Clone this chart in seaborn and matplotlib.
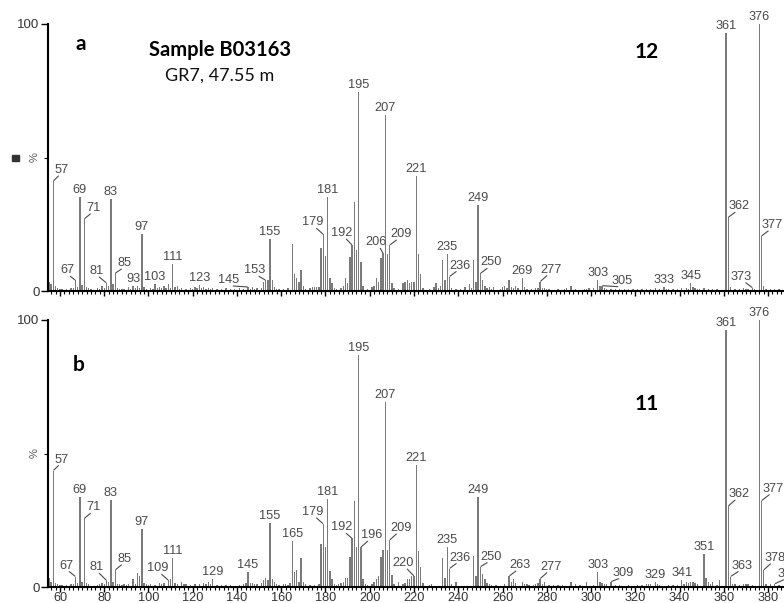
import matplotlib
matplotlib.use("Agg")
import matplotlib.pyplot as plt
from matplotlib.ticker import FixedLocator, MultipleLocator, NullFormatter
import pandas as pd
import seaborn as sns

# ---------------- spectrum a (peak 12) : (m/z, relative abundance %) ----------------
peaks_a = [
    (55, 3.5), (56, 2.5), (57, 41.2), (58, 2.0), (59, 1.0), (60, 0.8), (61, 0.8), (63, 0.6),
    (65, 1.0), (66, 1.2), (67, 4.0), (68, 1.5), (69, 35.2), (70, 2.2), (71, 27.0), (72, 1.5),
    (73, 1.2), (74, 0.8), (77, 1.0), (78, 0.8), (79, 2.0), (80, 1.0), (81, 3.0), (82, 2.0),
    (83, 34.5), (84, 2.5), (85, 6.7), (86, 1.0), (87, 0.8), (88, 0.6), (89, 0.8), (91, 1.5),
    (92, 0.8), (93, 2.0), (94, 1.0), (95, 2.0), (96, 1.2), (97, 21.3), (98, 1.5), (99, 0.8),
    (101, 1.0), (102, 0.8), (103, 2.5), (104, 1.0), (105, 1.5), (106, 1.0), (107, 2.0),
    (108, 1.2), (109, 2.5), (110, 1.2), (111, 10.0), (112, 1.5), (113, 2.0), (114, 0.8),
    (115, 1.0), (117, 0.8), (119, 1.2), (120, 0.8), (121, 1.5), (122, 1.0), (123, 2.2),
    (124, 1.0), (125, 1.5), (126, 0.8), (127, 1.0), (128, 0.6), (129, 1.0), (131, 0.8),
    (133, 0.8), (135, 1.0), (137, 0.6), (139, 0.8), (141, 1.0), (143, 0.8), (145, 1.5),
    (146, 0.6), (147, 1.5), (148, 0.8), (149, 1.0), (151, 1.2), (152, 3.5), (153, 4.0),
    (154, 4.0), (155, 19.5), (156, 4.0), (157, 1.5), (158, 0.6), (159, 0.6), (161, 0.8),
    (163, 1.0), (165, 17.6), (166, 6.5), (167, 5.0), (168, 3.5), (169, 8.0), (170, 2.0),
    (171, 0.8), (173, 1.0), (174, 1.5), (175, 1.5), (176, 1.5), (177, 1.5), (178, 16.0),
    (179, 21.2), (180, 13.0), (181, 35.3), (182, 5.0), (183, 3.0), (184, 1.2), (185, 0.8),
    (187, 1.0), (188, 2.0), (189, 5.0), (190, 3.0), (191, 12.8), (192, 17.2), (193, 33.4),
    (194, 15.4), (195, 74.5), (196, 11.0), (197, 2.0), (199, 0.8), (201, 1.5), (202, 2.0),
    (203, 5.0), (204, 3.5), (205, 12.5), (206, 14.1), (207, 65.8), (208, 14.0), (209, 17.2),
    (210, 3.0), (211, 1.0), (213, 0.8), (215, 3.0), (216, 3.5), (217, 4.0), (218, 3.0),
    (219, 3.5), (220, 3.5), (221, 43.0), (222, 13.9), (223, 6.2), (224, 1.0), (227, 0.8),
    (229, 1.5), (230, 3.0), (231, 1.2), (232, 2.0), (233, 11.6), (234, 4.0), (235, 13.9),
    (236, 5.4), (237, 1.2), (239, 0.8), (241, 0.6), (243, 1.5), (245, 2.5), (246, 1.2),
    (247, 11.6), (248, 3.5), (249, 32.2), (250, 6.6), (251, 4.0), (252, 2.0), (253, 1.2),
    (254, 1.5), (255, 0.8), (256, 1.5), (259, 0.8), (260, 1.5), (261, 2.0), (262, 1.0),
    (263, 4.0), (264, 1.5), (265, 1.0), (266, 2.0), (267, 1.0), (269, 4.9), (270, 1.5),
    (271, 0.8), (273, 0.6), (275, 1.0), (276, 1.2), (277, 3.5), (278, 1.2), (279, 1.0),
    (280, 0.8), (281, 0.6), (285, 0.8), (288, 0.8), (289, 1.2), (291, 2.0), (293, 0.6),
    (297, 0.8), (298, 0.8), (299, 1.0), (301, 1.0), (303, 4.1), (304, 2.0), (305, 2.0),
    (306, 1.0), (307, 0.8), (309, 0.6), (311, 0.8), (313, 0.8), (315, 0.6), (317, 0.8),
    (319, 0.8), (321, 0.6), (323, 0.8), (325, 0.6), (327, 0.8), (329, 1.0), (331, 0.8),
    (333, 1.5), (334, 0.8), (335, 0.8), (337, 0.6), (339, 0.8), (341, 1.0), (343, 1.2),
    (344, 0.8), (345, 3.1), (346, 1.5), (347, 1.0), (348, 0.8), (349, 0.8), (351, 1.0),
    (353, 0.6), (355, 0.8), (357, 0.6), (361, 96.5), (362, 27.6), (363, 1.5), (365, 0.6),
    (367, 0.6), (369, 1.0), (370, 0.8), (371, 0.8), (373, 1.2), (374, 0.8), (376, 100.0),
    (377, 20.6), (378, 2.0), (379, 0.8), (381, 0.8), (383, 0.6), (385, 0.6),
]
labels_a = [57, 67, 69, 71, 81, 83, 85, 93, 97, 103, 111, 123, 145, 153, 155, 179, 181,
            192, 195, 206, 207, 209, 221, 235, 236, 249, 250, 269, 277, 303, 305, 333,
            345, 361, 362, 373, 376, 377]

# ---------------- spectrum b (peak 11) ----------------
peaks_b = [
    (55, 3.2), (56, 2.0), (57, 43.6), (58, 1.5), (59, 1.0), (60, 0.8), (61, 0.8), (63, 0.6),
    (65, 1.0), (66, 1.2), (67, 3.9), (68, 1.5), (69, 33.8), (70, 2.0), (71, 25.7), (72, 1.5),
    (73, 1.0), (77, 0.8), (78, 1.0), (79, 1.5), (80, 1.0), (81, 2.5), (82, 2.0), (83, 32.6),
    (84, 2.0), (85, 6.4), (86, 1.0), (87, 1.0), (88, 0.8), (89, 1.2), (90, 0.8), (91, 1.2),
    (93, 3.0), (94, 1.0), (95, 5.1), (96, 4.0), (97, 21.6), (98, 1.5), (99, 1.0), (100, 0.8),
    (101, 1.0), (103, 0.8), (105, 1.5), (106, 1.2), (107, 1.5), (109, 2.5), (110, 3.0),
    (111, 10.7), (112, 1.5), (113, 1.0), (115, 2.0), (116, 1.0), (117, 1.2), (119, 0.8),
    (121, 1.0), (123, 1.0), (125, 1.5), (126, 1.0), (127, 2.0), (128, 1.0), (129, 2.9),
    (131, 0.6), (133, 0.6), (135, 0.8), (137, 0.6), (141, 0.8), (143, 1.0), (144, 1.5),
    (145, 5.7), (146, 1.5), (147, 1.5), (148, 1.0), (149, 1.0), (151, 1.5), (152, 2.5),
    (153, 3.5), (154, 2.5), (155, 23.8), (156, 3.0), (157, 2.0), (158, 1.0), (159, 0.6),
    (161, 1.0), (162, 1.0), (163, 0.8), (164, 1.5), (165, 17.4), (166, 5.5), (167, 6.5),
    (168, 2.0), (169, 11.0), (170, 2.0), (171, 1.0), (173, 0.6), (175, 0.6), (177, 1.0),
    (178, 16.1), (179, 23.6), (180, 15.1), (181, 33.0), (182, 6.0), (183, 3.0), (184, 1.2),
    (185, 0.8), (186, 1.0), (187, 1.5), (188, 2.0), (189, 3.5), (190, 3.5), (191, 11.4),
    (192, 18.2), (193, 32.3), (194, 14.9), (195, 86.9), (196, 14.9), (197, 3.0), (198, 1.0),
    (199, 0.6), (201, 1.0), (202, 2.0), (203, 3.0), (204, 4.0), (205, 11.4), (206, 13.8),
    (207, 69.2), (208, 14.0), (209, 17.6), (210, 4.5), (211, 1.0), (213, 2.0), (215, 1.0),
    (216, 1.5), (217, 3.0), (218, 3.0), (219, 4.0), (220, 4.1), (221, 45.7), (222, 13.6),
    (223, 7.6), (224, 1.5), (227, 0.8), (228, 1.0), (233, 10.7), (234, 3.5), (235, 15.1),
    (236, 6.9), (237, 1.2), (239, 2.0), (247, 11.6), (248, 4.0), (249, 33.6), (250, 7.6),
    (251, 5.0), (252, 3.0), (253, 1.5), (254, 1.0), (255, 0.8), (257, 0.6), (261, 1.0),
    (263, 4.1), (264, 2.0), (265, 3.0), (266, 1.5), (269, 2.0), (270, 1.0), (271, 1.0),
    (272, 0.8), (274, 0.8), (275, 1.2), (276, 1.5), (277, 3.1), (278, 1.0), (279, 2.0),
    (281, 0.6), (283, 0.8), (285, 0.8), (287, 0.6), (291, 2.0), (293, 1.0), (295, 0.8),
    (298, 2.0), (301, 0.6), (303, 5.7), (304, 2.0), (305, 1.5), (306, 1.0), (307, 1.0),
    (309, 2.0), (311, 0.6), (313, 0.6), (317, 0.8), (321, 0.8), (323, 0.6), (325, 1.0),
    (326, 1.2), (327, 1.0), (329, 2.0), (330, 1.0), (331, 0.8), (335, 0.6), (337, 0.8),
    (339, 0.6), (341, 2.5), (342, 1.0), (343, 2.0), (344, 1.5), (345, 2.0), (346, 2.0),
    (347, 1.5), (348, 1.0), (351, 12.4), (352, 3.5), (353, 2.0), (354, 1.0), (355, 2.0),
    (357, 0.8), (358, 2.5), (361, 96.3), (362, 30.3), (363, 3.9), (364, 1.0), (365, 1.2),
    (367, 0.8), (369, 1.0), (370, 1.0), (371, 1.0), (373, 0.8), (376, 100.0), (377, 32.3),
    (378, 6.4), (379, 1.0), (381, 1.0), (383, 1.2), (385, 0.8),
]
labels_b = [57, 67, 69, 71, 81, 83, 85, 97, 109, 111, 129, 145, 155, 165, 179, 181, 192,
            195, 196, 207, 209, 220, 221, 235, 236, 249, 250, 263, 277, 303, 309, 329,
            341, 351, 361, 362, 363, 376, 377, 378, 383]

x_ticks = list(range(60, 381, 20))

# label placement (offset of the label centre from the peak top, in pixels);
# peaks not listed get their label straight above the line
offsets_a = {
    57: (8, 11), 67: (-8, 10), 71: (9, 11), 81: (-10, 12), 85: (9, 10), 145: (-19, 7),
    153: (-11, 10), 179: (-11, 12), 192: (-10, 12), 206: (-7, 11), 209: (11, 11),
    236: (11, 11), 250: (11, 11), 277: (11, 12), 305: (20, 5), 362: (11, 11),
    373: (-11, 11), 377: (11, 11),
}
offsets_b = {
    57: (8, 11), 67: (-9, 11), 71: (9, 11), 81: (-10, 13), 85: (9, 11), 109: (-11, 12),
    179: (-11, 12), 192: (-10, 11), 196: (11, 12), 209: (11, 12), 220: (-11, 13),
    236: (11, 11), 250: (11, 10), 263: (11, 11), 277: (11, 12), 309: (12, 9),
    362: (11, 12), 363: (12, 11), 377: (12, 12), 378: (11, 12), 383: (13, 10),
}

BAR = "#7b7b7b"
TXT = "#4a4a4a"
W, H = 784, 603

sns.set_theme(style="white")
plt.rcParams["font.family"] = ["Liberation Sans", "DejaVu Sans"]

fig = plt.figure(figsize=(W / 100, H / 100), dpi=100)
fig.patch.set_facecolor("white")


def px_axes(left, top, right, bottom):
    return fig.add_axes([left / W, 1 - bottom / H, (right - left) / W, (bottom - top) / H])


def draw_spectrum(ax, peaks, labels, offsets, show_xlabels, minor_y):
    df = pd.DataFrame(peaks, columns=["mz", "rel"])
    sns.barplot(data=df, x="mz", y="rel", native_scale=True, color=BAR, saturation=1,
                width=0.62, linewidth=0, errorbar=None, ax=ax)
    ax.set_xlim(54.6, 387.2)
    ax.set_ylim(0, 100)
    ax.set_xlabel("")
    ax.set_ylabel("")
    ax.set_facecolor("none")
    for side in ("top", "right"):
        ax.spines[side].set_visible(False)
    for side in ("left", "bottom"):
        ax.spines[side].set_color("black")
        ax.spines[side].set_linewidth(1.5)

    ax.xaxis.set_major_locator(FixedLocator(x_ticks))
    ax.xaxis.set_minor_locator(MultipleLocator(2))
    ax.tick_params(axis="x", which="major", direction="out", length=3.6, width=1.0,
                   color="black", labelsize=9.2, labelcolor="#333333", pad=0.3,
                   bottom=True)
    ax.tick_params(axis="x", which="minor", direction="out", length=2.2, width=0.8,
                   color="black", bottom=True)
    if not show_xlabels:
        ax.xaxis.set_major_formatter(NullFormatter())

    ax.yaxis.set_major_locator(FixedLocator([0, 100]))
    ax.set_yticklabels(["0", "100"])
    ax.yaxis.set_minor_locator(FixedLocator(minor_y))
    ax.tick_params(axis="y", which="major", direction="out", length=5, width=1.0,
                   color="black", labelsize=9.5, labelcolor="#333333", pad=1, left=True)
    ax.tick_params(axis="y", which="minor", direction="out", length=3, width=0.8,
                   color="black", left=True)
    ax.text(-0.018, 0.5, "%", transform=ax.transAxes, rotation=90, ha="center",
            va="center", fontsize=8, color="#555555")

    height = dict(peaks)
    for m in labels:
        dx, dy = offsets.get(m, (0, 7))
        props = None
        if abs(dx) > 3:
            props = dict(arrowstyle="-", color=TXT, lw=0.8, shrinkA=0, shrinkB=0.5,
                         relpos=(0.3, 0.0) if dx > 0 else (0.7, 0.0))
        ax.annotate(str(m), xy=(m, height[m]), xytext=(dx, dy), textcoords="offset pixels",
                    ha="center", va="center", fontsize=9.2, color=TXT,
                    annotation_clip=False, arrowprops=props,
                    bbox=dict(boxstyle="square,pad=0", fc="none", ec="none"))


ax_a = px_axes(48, 24, W, 291)
draw_spectrum(ax_a, peaks_a, labels_a, offsets_a, False, [50])
ax_b = px_axes(48, 320, W, 587)
draw_spectrum(ax_b, peaks_b, labels_b, offsets_b, True, [50])


def fig_text(x, y, s, **kw):
    fig.text(x / W, 1 - y / H, s, ha="center", va="center", **kw)


bold = dict(family=["Lato", "DejaVu Sans"], fontweight="bold", color="black")
fig_text(80.5, 44, "a", fontsize=15, **bold)
fig_text(220, 50, "Sample B03163", fontsize=14.5, **bold)
fig_text(219.5, 76, "GR7, 47.55 m", fontsize=13, family=["Lato", "DejaVu Sans"],
         color="#111111")
fig_text(646.5, 52.5, "12", fontsize=15, **bold)
fig_text(79, 365, "b", fontsize=15, **bold)
fig_text(646.5, 404.5, "11", fontsize=15, **bold)

# small marker square beside the upper intensity axis
fig.patches.append(plt.Rectangle((11.5 / W, 1 - 160.5 / H), 7 / W, 6 / H,
                                 transform=fig.transFigure, color="#333333"))

fig.savefig("out.png", dpi=100, facecolor="white")
